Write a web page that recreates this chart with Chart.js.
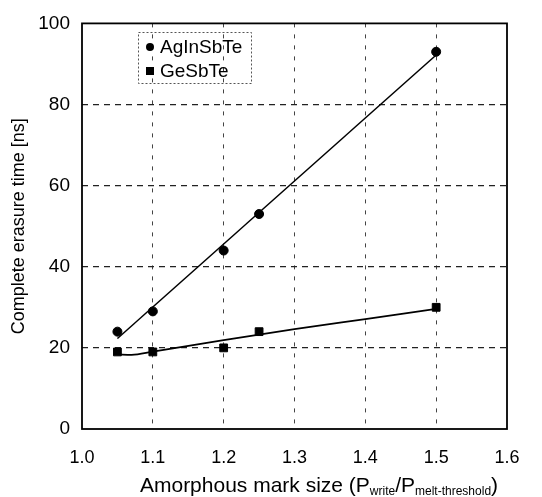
<!DOCTYPE html>
<html>
<head>
<meta charset="utf-8">
<script src="https://cdn.jsdelivr.net/npm/chart.js@4/dist/chart.umd.min.js"></script>
<style>
  html, body { margin: 0; padding: 0; background: #fff; }
  #wrap { width: 542px; height: 497px; }
</style>
</head>
<body>
<div id="wrap"><canvas id="grafico" width="542" height="497"></canvas></div>
<script>
// datos
var tamanioAg = [1.05, 1.1, 1.2, 1.25, 1.5];
var tiempoAg = [24, 29, 44, 53, 93];
var tamanioGe = [1.05, 1.1, 1.2, 1.25, 1.5];
var tiempoGe = [19, 19, 20, 24, 30];

// lineas de ajuste
var ajusteAgX = [1.05, 1.5];
var ajusteAgY = [22.3, 92.2];
var ajusteGeX = [1.05, 1.07, 1.1, 1.2, 1.3, 1.4, 1.5];
var ajusteGeY = [18.4, 18.3, 19.1, 21.9, 24.6, 27.1, 29.6];

var ticksX = [1.0, 1.1, 1.2, 1.3, 1.4, 1.5, 1.6];
var ticksY = [0, 20, 40, 60, 80, 100];

function puntos(xs, ys) {
    var out = [];
    for (var i = 0; i < xs.length; i++) {
        out.push({x: xs[i], y: ys[i]});
    }
    return out;
}

var FUENTE = '"Liberation Sans", Arial, sans-serif';

// leyenda dentro del area del grafico
var leyendaPlugin = {
    id: 'leyendaInterna',
    afterDraw: function (chart) {
        var ctx = chart.ctx;
        ctx.save();
        ctx.strokeStyle = '#555';
        ctx.lineWidth = 1;
        ctx.setLineDash([2, 2]);
        ctx.strokeRect(138.5, 32.5, 113, 51);
        ctx.setLineDash([]);
        ctx.fillStyle = '#000';
        ctx.font = '19px ' + FUENTE;
        ctx.textBaseline = 'middle';
        ctx.beginPath();
        ctx.arc(150, 47, 4, 0, Math.PI * 2);
        ctx.fill();
        ctx.fillRect(146, 67, 8, 8);
        ctx.fillText(chart.data.datasets[0].label, 160, 48);
        ctx.fillText(chart.data.datasets[1].label, 160, 72);
        ctx.restore();
    }
};

// titulo del eje x con subindices
var tituloXPlugin = {
    id: 'tituloX',
    afterDraw: function (chart) {
        var ctx = chart.ctx;
        ctx.save();
        ctx.fillStyle = '#000';
        ctx.textBaseline = 'alphabetic';
        var partes = [
            ['Amorphous mark size (P', 21, 0],
            ['write', 12, 3],
            ['/P', 21, 0],
            ['melt-threshold', 12, 3],
            [')', 21, 0]
        ];
        var total = 0;
        partes.forEach(function (p) {
            ctx.font = p[1] + 'px ' + FUENTE;
            total += ctx.measureText(p[0]).width;
        });
        var x = 319 - total / 2;
        var base = 492;
        partes.forEach(function (p) {
            ctx.font = p[1] + 'px ' + FUENTE;
            ctx.fillText(p[0], x, base + p[2]);
            x += ctx.measureText(p[0]).width;
        });
        ctx.restore();
    }
};

// borde del area
var bordePlugin = {
    id: 'borde',
    afterDatasetsDraw: function (chart) {
        var a = chart.chartArea;
        var ctx = chart.ctx;
        ctx.save();
        ctx.strokeStyle = '#000';
        ctx.lineWidth = 1.8;
        ctx.strokeRect(a.left, a.top, a.right - a.left, a.bottom - a.top);
        ctx.restore();
    }
};

var ctx = document.getElementById('grafico');
new Chart(ctx, {
    type: 'scatter',
    data: {
        datasets: [{
            label: 'AgInSbTe',
            data: puntos(tamanioAg, tiempoAg),
            pointStyle: 'circle',
            pointRadius: 4.5,
            backgroundColor: '#000',
            borderColor: '#000',
            showLine: false
        }, {
            label: 'GeSbTe',
            data: puntos(tamanioGe, tiempoGe),
            pointStyle: 'rect',
            pointRadius: 5.5,
            backgroundColor: '#000',
            borderColor: '#000',
            showLine: false
        }, {
            label: 'ajuste AgInSbTe',
            data: puntos(ajusteAgX, ajusteAgY),
            showLine: true,
            pointRadius: 0,
            borderColor: '#000',
            borderWidth: 1.5
        }, {
            label: 'ajuste GeSbTe',
            data: puntos(ajusteGeX, ajusteGeY),
            showLine: true,
            pointRadius: 0,
            borderColor: '#000',
            borderWidth: 1.8,
            cubicInterpolationMode: 'monotone'
        }]
    },
    options: {
        responsive: false,
        animation: false,
        devicePixelRatio: 1,
        layout: {padding: {left: 0, right: 35, top: 18, bottom: 0}},
        plugins: {
            legend: {display: false},
            tooltip: {enabled: false}
        },
        scales: {
            x: {
                type: 'linear',
                min: 1.0,
                max: 1.6,
                afterBuildTicks: function (scale) {
                    scale.ticks = ticksX.map(function (v) { return {value: v}; });
                },
                afterFit: function (scale) { scale.height = 68; },
                border: {display: false, dash: [4, 7]},
                grid: {
                    color: function (c) {
                        return (c.tick.value <= 1.0 || c.tick.value >= 1.6) ? 'rgba(0,0,0,0)' : '#444';
                    },
                    lineWidth: 1,
                    drawTicks: false
                },
                ticks: {
                    color: '#000',
                    font: {family: FUENTE, size: 18},
                    padding: 18,
                    callback: function (v) { return v.toFixed(1); }
                }
            },
            y: {
                min: 0,
                max: 100,
                afterBuildTicks: function (scale) {
                    scale.ticks = ticksY.map(function (v) { return {value: v}; });
                },
                afterFit: function (scale) { scale.width = 82; },
                border: {display: false, dash: [6, 5]},
                grid: {
                    color: function (c) {
                        return (c.tick.value <= 0 || c.tick.value >= 100) ? 'rgba(0,0,0,0)' : '#222';
                    },
                    lineWidth: 1.3,
                    drawTicks: false
                },
                ticks: {
                    color: '#000',
                    font: {family: FUENTE, size: 19},
                    padding: 12
                },
                title: {
                    display: true,
                    text: 'Complete erasure time [ns]',
                    color: '#000',
                    font: {family: FUENTE, size: 18},
                    padding: {top: 8, bottom: 0}
                }
            }
        }
    },
    plugins: [leyendaPlugin, tituloXPlugin, bordePlugin]
});
</script>
</body>
</html>
